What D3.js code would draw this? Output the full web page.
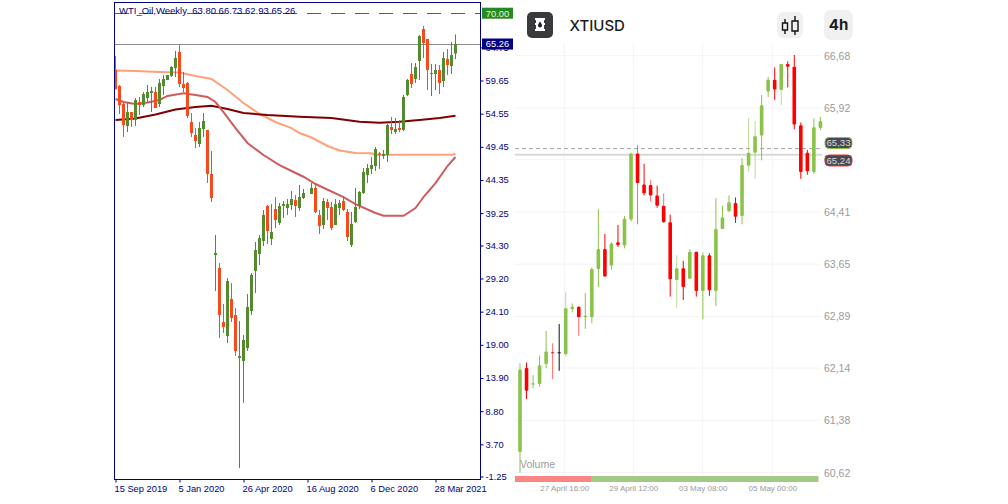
<!DOCTYPE html>
<html><head><meta charset="utf-8">
<script src="https://cdn.jsdelivr.net/npm/d3@7"></script>
<style>html,body{margin:0;padding:0;background:#fff;overflow:hidden}svg{display:block}</style>
</head><body><svg id="c" width="1008" height="504"></svg>
<script>
// ---- left chart: WTI_Oil weekly ----
const wtiOpen=[61.26,58.80,56.03,52.65,54.80,53.57,56.34,55.88,56.96,57.73,57.88,56.03,58.80,59.73,60.34,61.57,64.03,59.11,59.26,53.27,51.27,49.88,52.19,52.04,45.27,32.81,30.81,22.51,20.35,26.04,23.58,16.97,16.51,18.51,24.20,30.35,32.96,34.96,40.35,35.27,39.89,37.73,40.35,40.04,40.50,41.27,40.04,41.58,41.96,42.19,43.12,38.96,37.43,40.96,40.19,37.43,40.04,41.12,39.42,34.35,37.89,40.35,42.35,45.12,46.04,46.50,48.42,48.04,48.19,52.50,51.73,52.34,52.04,57.42,60.65,59.88,62.65,67.57,66.03,60.65,60.65,61.26,59.57,62.96,61.88,63.80];
const wtiHigh=[63.42,58.96,56.34,56.19,54.80,56.96,57.11,57.88,58.96,58.65,58.65,59.88,60.50,60.50,61.88,64.19,65.11,60.96,59.42,54.65,52.34,53.27,54.65,52.04,48.81,35.89,31.58,25.27,29.27,28.50,24.66,22.66,20.51,26.81,30.04,34.81,35.89,39.73,40.50,40.65,41.73,40.81,41.12,41.42,42.65,42.04,43.58,42.96,43.12,43.88,43.58,39.73,41.58,41.42,40.96,41.42,41.27,41.88,39.89,39.42,43.12,42.65,46.19,46.81,47.88,49.42,48.65,48.96,52.96,54.03,53.88,53.57,57.42,59.88,62.34,62.34,66.65,68.03,66.03,62.19,62.19,62.03,64.03,64.49,65.57,66.73];
const wtiLow=[58.30,54.50,50.96,51.73,52.50,52.65,54.34,55.57,56.19,54.80,55.42,55.57,57.42,59.73,60.19,60.19,58.65,57.88,53.88,50.96,49.27,49.42,50.96,43.88,40.96,27.27,20.05,20.81,19.28,22.51,17.28,0.05,10.05,18.05,23.58,26.96,31.27,34.19,34.50,34.35,36.96,37.43,38.50,38.96,39.73,38.66,39.58,41.42,41.42,42.19,39.27,36.04,36.81,38.19,36.66,37.43,38.96,39.58,34.96,34.04,37.73,39.89,42.19,43.88,45.27,45.73,46.04,47.58,47.11,51.42,51.42,51.73,51.88,57.26,58.50,59.26,59.73,63.11,58.19,57.26,58.19,57.57,58.65,60.50,60.65,62.93];
const wtiClose=[58.30,55.88,52.80,54.80,53.57,56.65,55.88,57.57,57.88,58.03,55.42,59.26,59.88,60.50,61.73,63.11,59.11,58.50,54.19,51.57,50.34,52.34,53.42,45.27,41.58,33.12,23.58,21.74,28.81,23.12,18.05,17.28,19.74,24.81,29.74,33.58,35.43,38.96,36.50,36.35,38.19,40.35,40.65,40.65,41.42,40.35,41.73,42.35,41.70,43.12,39.42,37.27,41.12,40.04,36.96,40.65,40.81,39.73,35.58,37.58,40.19,42.50,45.58,46.19,46.65,49.11,48.19,48.35,52.80,52.04,52.19,52.04,57.11,59.73,59.11,61.73,66.49,65.42,61.26,60.80,61.26,59.26,63.11,62.03,63.57,65.26];
const wtiPaleWeek=[48];

const maSlowIdx=[0,5,10,15,20,24,28,32,38,46,54,61,66,71,76,81,85];
const maSlow=[53.57,53.80,54.42,55.19,55.57,55.77,55.27,54.65,54.34,54.08,53.88,53.31,53.16,53.31,53.57,53.88,54.24];
const maMidIdx=[0,5,11,16,20,24,28,32,36,40,44,46,49,53,56,60,64,65,84,85];
const maMid=[61.19,61.11,60.96,60.88,60.34,59.88,58.19,56.19,54.50,53.27,52.34,51.57,50.88,49.58,48.88,48.50,48.45,48.24,48.24,48.39];
const maFastIdx=[0,2,5,8,11,13,17,20,23,25,27,30,33,37,41,44,47,50,57,60,65,67,72,75,77,80,83,85];
const maFast=[56.80,56.34,56.03,56.27,56.65,57.27,57.68,57.42,57.11,56.34,54.80,52.34,50.04,48.19,46.65,45.73,44.85,43.73,41.73,40.65,39.27,38.85,38.85,40.04,41.73,43.88,46.50,47.88];

const wtiPriceTicks=[64.75,59.65,54.55,49.45,44.35,39.25,34.27,29.20,24.10,19.00,13.90,8.80,3.70,-1.25];
const wtiPriceLabels=["64.75","59.65","54.55","49.45","44.35","39.25","34.30","29.20","24.10","19.00","13.90","8.80","3.70","-1.25"];
const wtiDateIdx=[0,16,32,48,64,80];
const wtiDateLabels=["15 Sep 2019","5 Jan 2020","26 Apr 2020","16 Aug 2020","6 Dec 2020","28 Mar 2021"];
const wtiTitle="WTI_Oil,Weekly  63.80 66.73 62.93 65.26";
const wtiLevel=70.00, wtiLast=65.26;

// ---- right chart: XTIUSD 4h (first value is the cut-off candle at the left edge) ----
const xtiOpen=[60.97,60.92,62.14,61.90,61.91,62.20,62.37,62.37,62.34,63.00,63.03,62.88,62.88,63.58,63.87,63.63,63.97,63.92,64.30,65.26,64.81,64.80,64.65,64.50,64.26,63.42,63.59,63.44,63.83,63.26,63.78,63.26,64.16,64.42,64.54,64.35,65.08,65.27,65.52,66.16,66.33,66.18,66.56,66.52,65.67,65.27,64.99,65.63];
const xtiHigh=[61.00,62.21,62.22,62.04,62.32,62.68,62.50,62.78,63.24,63.08,63.04,63.23,63.60,64.45,64.09,63.97,64.22,64.35,65.27,65.38,65.11,64.87,64.79,64.68,64.37,63.78,63.70,63.87,63.83,63.82,63.81,64.61,64.50,64.65,64.62,65.19,65.77,65.73,66.11,66.37,66.51,66.56,66.60,66.69,65.71,65.31,65.77,65.79];
const xtiLow=[60.92,60.62,61.69,61.85,61.87,62.14,61.98,62.10,62.31,62.95,62.61,62.71,62.79,63.32,63.47,63.57,63.90,63.88,64.27,64.23,64.65,64.56,64.47,64.25,63.18,63.02,63.13,63.44,63.18,62.85,63.19,63.04,64.16,64.41,64.25,64.23,65.00,64.89,65.16,66.08,66.04,65.96,66.22,65.61,64.89,64.95,64.96,65.60];
const xtiClose=[60.95,62.12,61.81,61.92,62.18,62.38,62.36,62.36,63.01,63.03,62.88,62.90,63.58,63.87,63.47,63.95,63.93,64.31,65.26,64.83,64.68,64.65,64.50,64.26,63.43,63.59,63.32,63.83,63.26,63.78,63.27,64.16,64.33,64.55,64.34,65.09,65.27,65.51,65.96,66.33,66.19,66.56,66.52,65.68,64.99,65.00,65.64,65.73];
const xtiFirstSlot=-1;
const xtiPaleWick=[5,7,9,18,20,22,24,35,36,40];
const xtiBlackDoji=[6];

const xtiPriceTicks=[66.68,65.92,65.17,64.41,63.65,62.89,62.14,61.38,60.62];
const xtiTimePos=[6.78,17.35,27.98,38.64];
const xtiTimeLabels=["27 April 16:00","29 April 12:00","03 May 08:00","05 May 00:00"];
const xtiAsk=65.33, xtiBid=65.24;
const xtiVolumeSpan=[-0.77,10.87,45.7];
const xtiSymbol="XTIUSD", xtiTimeframe="4h", xtiVolumeLabel="Volume";

// ---- drawing ----
const svg=d3.select("#c");
const leftFont='"Liberation Sans",Arial,sans-serif';
const navy="#000080";

function candles(g,x,y,o,h,l,c,slot,bw,col,wickOp,rx){
  const idx=d3.range(o.length);
  const s=g.selectAll("g").data(idx).join("g");
  s.append("rect").attr("x",i=>x(slot(i))-.5).attr("width",1)
    .attr("y",i=>y(h[i])).attr("height",i=>Math.max(1,y(l[i])-y(h[i])))
    .attr("fill",i=>col(i)).attr("opacity",i=>wickOp(i));
  s.append("rect").attr("x",i=>x(slot(i))-bw/2).attr("width",bw).attr("rx",rx)
    .attr("y",i=>y(Math.max(o[i],c[i]))).attr("height",i=>Math.max(1,Math.abs(y(o[i])-y(c[i]))))
    .attr("fill",i=>col(i));
}

// left
const xL=d3.scaleLinear().domain([0,85]).range([115.5,455.5]);
const yL=d3.scaleLinear().domain([-1.25,59.65]).range([476.5,80.5]);
const left=svg.append("g");
left.append("defs").append("clipPath").attr("id","cl").append("rect").attr("x",115).attr("y",3).attr("width",365).attr("height",476);

left.append("line")
  .attr("x1",115).attr("x2",480).attr("y1",yL(wtiLevel)).attr("y2",yL(wtiLevel))
  .attr("stroke","#2e7d22").attr("stroke-width",1).attr("stroke-dasharray","14 10").attr("shape-rendering","crispEdges");
left.append("line").attr("x1",115).attr("x2",480).attr("y1",yL(wtiLast)).attr("y2",yL(wtiLast))
  .attr("stroke","#8a8c92").attr("stroke-width",1).attr("shape-rendering","crispEdges");

const plotL=left.append("g").attr("clip-path","url(#cl)");
[[maMidIdx,maMid,"#ffa07a"],[maSlowIdx,maSlow,"#800000"],[maFastIdx,maFast,"#cd5c5c"]].forEach(([ix,v,col])=>{
  plotL.append("path").attr("fill","none").attr("stroke",col).attr("stroke-width",2)
    .attr("d",d3.line().x((d,i)=>xL(ix[i])).y(d=>yL(d))(v));
});
candles(plotL.append("g"),xL,yL,wtiOpen,wtiHigh,wtiLow,wtiClose,i=>i,3,
  i=>wtiPaleWeek.includes(i)?"#f6efe6":(wtiClose[i]>=wtiOpen[i]?"#558b2f":"#f94a1e"),()=>1,0);

left.append("text").attr("x",119).attr("y",14).attr("fill",navy)
  .attr("font-family",leftFont).attr("font-size",9.5).attr("xml:space","preserve")
  .style("white-space","pre").text(wtiTitle);

left.append("rect").attr("x",114.5).attr("y",2.5).attr("width",366).attr("height",477)
  .attr("fill","none").attr("stroke",navy);

const axR=left.append("g").attr("transform","translate(480.5,0)")
  .call(d3.axisRight(yL).tickValues(wtiPriceTicks).tickSize(3).tickPadding(2)
    .tickFormat((d,i)=>wtiPriceLabels[i]));
axR.select(".domain").remove();
axR.selectAll("line").attr("stroke",navy);
axR.selectAll("text").attr("fill",navy).attr("font-family",leftFont).attr("font-size",9.3);

const axB=left.append("g").attr("transform","translate(0,479.5)")
  .call(d3.axisBottom(xL).tickValues(wtiDateIdx).tickSize(3).tickPadding(3)
    .tickFormat((d,i)=>wtiDateLabels[i]));
axB.select(".domain").remove();
axB.selectAll("line").attr("stroke",navy);
axB.selectAll("text").attr("fill",navy).attr("font-family",leftFont).attr("font-size",9.3)
  .attr("text-anchor","start").attr("x",-1.5);

[[wtiLevel,"#228b22","#f2f2dc"],[wtiLast,navy,"#ffffff"]].forEach(([v,bg,fg])=>{
  left.append("rect").attr("x",482).attr("y",yL(v)-5.5).attr("width",31).attr("height",11).attr("fill",bg);
  left.append("text").attr("x",497.5).attr("y",yL(v)+3.4).attr("text-anchor","middle")
    .attr("fill",fg).attr("font-family",leftFont).attr("font-size",9.3).text(d3.format(".2f")(v));
});

// right
const rightFont='"Liberation Sans",Arial,sans-serif';
const xR=d3.scaleLinear().domain([0,46]).range([520,820.4]);
const yR=d3.scaleLinear().domain([60.62,66.68]).range([472.7,55.7]);
const right=svg.append("g");
right.append("defs").append("clipPath").attr("id","cr").append("rect").attr("x",515).attr("y",40).attr("width",310).attr("height",440);

right.append("g").selectAll("line").data(xtiPriceTicks).join("line")
  .attr("x1",515).attr("x2",820).attr("y1",d=>yR(d)).attr("y2",d=>yR(d))
  .attr("stroke","#f3f3f6");
right.append("g").selectAll("line").data(xtiTimePos).join("line")
  .attr("x1",d=>xR(d)).attr("x2",d=>xR(d)).attr("y1",44).attr("y2",482)
  .attr("stroke","#f3f3f6");

right.append("line").attr("x1",515).attr("x2",822).attr("y1",yR(xtiBid)).attr("y2",yR(xtiBid))
  .attr("stroke","#d8d8d8").attr("stroke-width",2);
right.append("line").attr("x1",515).attr("x2",822).attr("y1",yR(xtiAsk)).attr("y2",yR(xtiAsk))
  .attr("stroke","#a6a6a6").attr("stroke-dasharray","4 3");

candles(right.append("g").attr("clip-path","url(#cr)"),xR,yR,xtiOpen,xtiHigh,xtiLow,xtiClose,i=>i+xtiFirstSlot,3.6,
  i=>{const j=i+xtiFirstSlot;return xtiBlackDoji.includes(j)?"#111":(xtiClose[i]>=xtiOpen[i]?"#8bc34a":"#ff0000");},
  i=>xtiPaleWick.includes(i+xtiFirstSlot)?.6:1,1);

right.append("rect").attr("x",xR(xtiVolumeSpan[0])).attr("width",xR(xtiVolumeSpan[1])-xR(xtiVolumeSpan[0]))
  .attr("y",476).attr("height",6).attr("fill","#fb8484");
right.append("rect").attr("x",xR(xtiVolumeSpan[1])).attr("width",xR(xtiVolumeSpan[2])-xR(xtiVolumeSpan[1]))
  .attr("y",476).attr("height",6).attr("fill","#a3c987");
right.append("text").attr("x",520).attr("y",468).attr("fill","#9a9a9a")
  .attr("font-family",rightFont).attr("font-size",10.5).text(xtiVolumeLabel);

const axRR=right.append("g").attr("transform","translate(824,0)")
  .call(d3.axisRight(yR).tickValues(xtiPriceTicks).tickSize(0).tickPadding(0)
    .tickFormat(d=>d3.format(".2f")(d).replace(".",",")));
axRR.select(".domain").remove();
axRR.selectAll("text").attr("fill","#9a9a9a").attr("font-family",rightFont).attr("font-size",10.5);

const axRB=right.append("g").attr("transform","translate(0,482)")
  .call(d3.axisBottom(xR).tickValues(xtiTimePos).tickSize(0).tickPadding(3)
    .tickFormat((d,i)=>xtiTimeLabels[i]));
axRB.select(".domain").remove();
axRB.selectAll("text").attr("fill","#999").attr("font-family",rightFont).attr("font-size",8);

[[xtiAsk,"#8bc34a",143],[xtiBid,"#e53935",160.5]].forEach(([v,b,cy])=>{
  right.append("rect").attr("x",825).attr("y",cy-5.5).attr("width",27).attr("height",11).attr("rx",4)
    .attr("fill","#454a50").attr("stroke",b);
  right.append("text").attr("x",838.5).attr("y",cy+3.4).attr("text-anchor","middle")
    .attr("fill","#dcdcdc").attr("font-family",rightFont).attr("font-size",9.6)
    .text(d3.format(".2f")(v).replace(".",","));
});

// header
const h=right.append("g");
h.append("rect").attr("x",527).attr("y",12).attr("width",26).attr("height",26).attr("rx",5).attr("fill","#3a3a3c");
h.append("path").attr("fill","#fff").attr("d","M535 18h10v2h-1v3h1v2h-1v4h1v2h-10v-2h1v-4h-1v-2h1v-3h-1z");
h.append("path").attr("fill","#222").attr("d","M540 21.5c1.4 2 2 3 2 4a2 2 0 0 1-4 0c0-1 .6-2 2-4z");
h.append("text").attr("x",569.5).attr("y",30.5).attr("fill","#1c1c1e")
  .attr("font-family",'Inter,"Liberation Sans",sans-serif').attr("font-size",15).attr("font-weight",500).text(xtiSymbol);
h.append("rect").attr("x",777).attr("y",12).attr("width",26).attr("height",26).attr("rx",6).attr("fill","#f0f0f0");
h.append("path").attr("fill","none").attr("stroke","#111").attr("stroke-width",1.4)
  .attr("d","M785 19v4M785 30v4M782.5 23h5v7h-5zM795 16v5M795 31v4M792 21h6v10h-6z");
h.append("rect").attr("x",824).attr("y",10).attr("width",29).attr("height",30).attr("rx",7).attr("fill","#f0f0f0");
h.append("text").attr("x",838.5).attr("y",30).attr("text-anchor","middle").attr("fill","#1c1c1e")
  .attr("font-family",'Inter,"Liberation Sans",sans-serif').attr("font-size",15).attr("font-weight",700).text(xtiTimeframe);
</script></body></html>
